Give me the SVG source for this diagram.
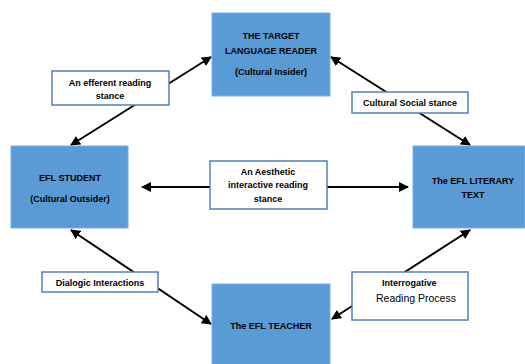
<svg xmlns="http://www.w3.org/2000/svg" width="525" height="364" viewBox="0 0 525 364">
<defs>
<marker id="ah" viewBox="0 0 10 10" refX="9" refY="5" markerWidth="5" markerHeight="5" orient="auto-start-reverse">
<path d="M0,0 L10,5 L0,10 Z" fill="#000"/>
</marker>
<style>
.node{fill:#5b9bd5;stroke:#7aaee0;stroke-width:1}
.lbl{fill:#fff;stroke:#4f81bd;stroke-width:1.5}
.t{font-family:"Liberation Sans",Arial,sans-serif;font-weight:bold;font-size:9px;fill:#000;text-anchor:middle}
.r{font-family:"Liberation Sans",Arial,sans-serif;font-size:10.5px;fill:#000}
.c{stroke:#000;stroke-width:2;fill:none;marker-start:url(#ah);marker-end:url(#ah)}
</style>
</defs>
<rect width="525" height="364" fill="#fff"/>
<g id="connectors">
<line class="c" x1="211" y1="57" x2="71" y2="145"/>
<line class="c" x1="331" y1="57" x2="470" y2="145"/>
<line class="c" x1="142" y1="187" x2="408" y2="187"/>
<line class="c" x1="71" y1="230" x2="211" y2="324"/>
<line class="c" x1="470" y1="230" x2="332" y2="319"/>
</g>
<g id="reader">
<rect class="node" x="212" y="13" width="118" height="83"/>
<text class="t" x="271" y="39">THE TARGET</text>
<text class="t" x="271" y="54">LANGUAGE READER</text>
<text class="t" x="271" y="75">(Cultural Insider)</text>
</g>
<g id="student">
<rect class="node" x="11" y="146" width="117" height="82"/>
<text class="t" x="70" y="181">EFL STUDENT</text>
<text class="t" x="70" y="202">(Cultural Outsider)</text>
</g>
<g id="text">
<rect class="node" x="413" y="146" width="112" height="82"/>
<text class="t" x="473" y="184">The EFL LITERARY</text>
<text class="t" x="473" y="198">TEXT</text>
</g>
<g id="teacher">
<rect class="node" x="212" y="284" width="118" height="84"/>
<text class="t" x="271" y="329">The EFL TEACHER</text>
</g>
<g id="efferent">
<rect class="lbl" x="52" y="71" width="117" height="34"/>
<text class="t" x="110" y="86">An efferent reading</text>
<text class="t" x="110" y="99">stance</text>
</g>
<g id="cultural">
<rect class="lbl" x="352" y="92" width="116" height="21"/>
<text class="t" x="410" y="106">Cultural Social stance</text>
</g>
<g id="aesthetic">
<rect class="lbl" x="210" y="161" width="117" height="48"/>
<text class="t" x="268" y="175">An Aesthetic</text>
<text class="t" x="268" y="188">interactive reading</text>
<text class="t" x="268" y="202">stance</text>
</g>
<g id="dialogic">
<rect class="lbl" x="42" y="272" width="116" height="20"/>
<text class="t" x="100" y="286">Dialogic Interactions</text>
</g>
<g id="interrogative">
<rect class="lbl" x="352" y="272" width="116" height="48"/>
<text class="t" x="382" y="286" style="text-anchor:start">Interrogative</text>
<text class="r" x="376" y="302">Reading Process</text>
</g>
</svg>
